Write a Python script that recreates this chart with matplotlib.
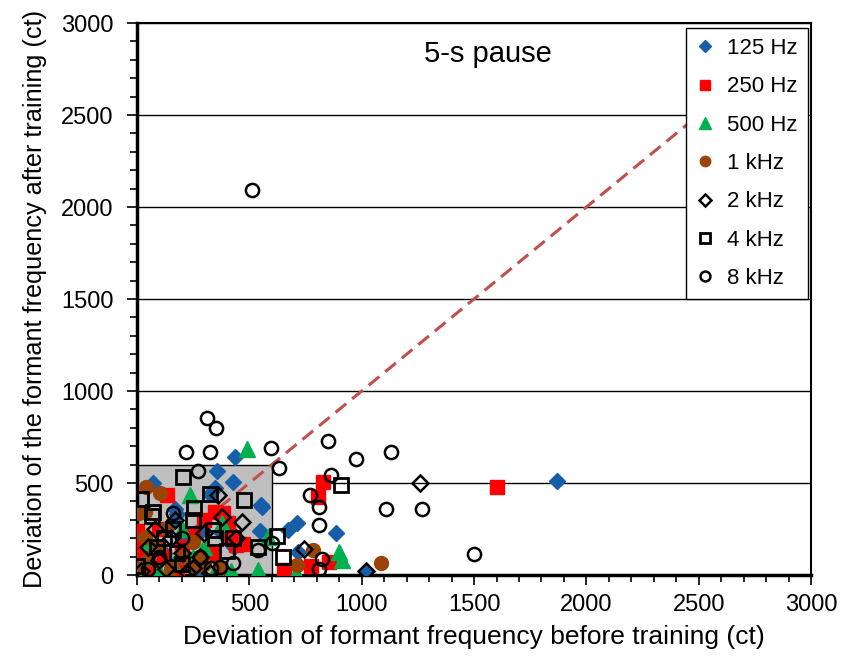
import matplotlib.pyplot as plt
from matplotlib.patches import Rectangle
from matplotlib.ticker import MultipleLocator

plt.rcParams['font.family'] = ['Liberation Sans', 'DejaVu Sans']

# deviation before training (x) and after training (y), in cents
x_125 = [1870, 1020, 886, 712, 672, 717, 436, 356, 347, 427, 71, 556, 547, 325,
         267, 160, 200, 290, 120, 60, 240, 180, 430, 380, 170, 289, 552]
y_125 = [510, 22, 228, 283, 245, 125, 640, 565, 473, 505, 500, 370, 240, 440,
         11, 290, 180, 250, 120, 60, 80, 330, 150, 230, 360, 245, 380]

x_250 = [1600, 828, 805, 855, 775, 655, 133, 0, 0, 405, 347, 383, 440, 60, 120,
         200, 250, 300, 180, 100, 340, 420, 470, 30]
y_250 = [480, 505, 424, 70, 50, 25, 435, 240, 180, 283, 342, 337, 163, 40, 100,
         150, 220, 300, 20, 250, 120, 200, 170, 120]

x_500 = [490, 236, 900, 912, 708, 538, 583, 0, 100, 160, 250, 300, 350, 420,
         60, 200, 380]
y_500 = [685, 435, 125, 80, 11, 27, 207, 0, 20, 60, 100, 150, 30, 20, 180, 250, 280]

x_1k = [40, 102, 9, 712, 783, 1086, 36, 36, 0, 258, 280, 369, 50, 100, 150,
        200, 250, 130, 300]
y_1k = [478, 446, 337, 54, 136, 65, 342, 207, 38, 43, 98, 38, 80, 150, 30,
        100, 180, 250, 60]

x_2k = [1259, 1020, 743, 467, 378, 360, 325, 222, 440, 50, 100, 150, 200, 250,
        300, 80, 20, 170, 130, 280]
y_2k = [500, 22, 141, 288, 315, 435, 11, 16, 200, 150, 80, 200, 120, 40, 230,
        250, 20, 300, 30, 100]

x_4k = [908, 623, 650, 476, 205, 18, 325, 71, 65, 254, 539, 338, 347, 427, 120,
        180, 0, 250, 90, 200, 400, 160]
y_4k = [489, 212, 98, 408, 532, 413, 440, 342, 320, 364, 152, 245, 201, 201,
        200, 120, 50, 300, 150, 60, 130, 250]

x_8k = [512, 312, 351, 218, 325, 596, 850, 975, 1130, 632, 271, 863, 770, 810,
        1108, 1268, 810, 1500, 823, 810, 600, 539, 160, 280, 427, 369, 100, 50,
        200, 330]
y_8k = [2090, 853, 800, 668, 668, 690, 728, 630, 668, 581, 565, 543, 435, 370,
        359, 359, 272, 114, 87, 33, 174, 136, 337, 98, 65, 43, 100, 30, 200, 40]

fig = plt.figure(figsize=(8.42, 6.63), dpi=100)
ax = fig.add_axes([0.1627, 0.1327, 0.8006, 0.8326])

# region of small deviations
ax.add_patch(Rectangle((0, 0), 600, 600, facecolor='#bfbfbf', edgecolor='black',
                       linewidth=1, zorder=1))
ax.plot([0, 2560], [0, 2560], linestyle=(0, (4.5, 2.5)), color='#c0504d',
        linewidth=2.2, zorder=2)

ax.plot(x_125, y_125, 'D', color='#175ea8', ms=8.5, mec='#175ea8', label='125 Hz', zorder=3)
ax.plot(x_250, y_250, 's', color='#ff0000', ms=10, mec='#ff0000', label='250 Hz', zorder=3)
ax.plot(x_500, y_500, '^', color='#00b050', ms=11, mec='#00b050', label='500 Hz', zorder=3)
ax.plot(x_1k, y_1k, 'o', color='#994406', ms=10, mec='#994406', label='1 kHz', zorder=3)
ax.plot(x_2k, y_2k, 'D', mfc='none', mec='black', mew=1.8, ms=8.5, label='2 kHz', zorder=4)
ax.plot(x_4k, y_4k, 's', mfc='none', mec='black', mew=2, ms=9.5, label='4 kHz', zorder=4)
ax.plot(x_8k, y_8k, 'o', mfc='none', mec='black', mew=1.8, ms=9.5, label='8 kHz', zorder=4)

ax.set_xlim(0, 3000)
ax.set_ylim(0, 3000)
ax.xaxis.set_major_locator(MultipleLocator(500))
ax.xaxis.set_minor_locator(MultipleLocator(100))
ax.yaxis.set_major_locator(MultipleLocator(500))
ax.yaxis.set_minor_locator(MultipleLocator(100))
ax.grid(axis='y', which='major', color='black', linewidth=1, zorder=0)
ax.set_axisbelow(True)
ax.tick_params(which='major', direction='out', length=7, width=1.2, labelsize=17)
ax.tick_params(which='minor', direction='out', length=5, width=1.2)
ax.tick_params(axis='x', pad=7)
ax.tick_params(axis='y', pad=10)

for side in ['left', 'bottom']:
    ax.spines[side].set_linewidth(2.5)
for side in ['top', 'right']:
    ax.spines[side].set_linewidth(1.5)

ax.set_xlabel('Deviation of formant frequency before training (ct)', fontsize=19, labelpad=6)
ax.set_ylabel('Deviation of the formant frequency after training (ct)', fontsize=18.2, labelpad=10)
ax.text(1560, 2830, '5-s pause', fontsize=21, ha='center', va='center')

leg = ax.legend(loc='upper right', bbox_to_anchor=(0.9955, 0.991), fontsize=16,
                fancybox=False, framealpha=1, edgecolor='black', markerscale=0.75,
                handlelength=0.8, handletextpad=0.6, labelspacing=0.78,
                borderpad=0.45, borderaxespad=0, numpoints=1)
leg.get_frame().set_linewidth(1)

fig.savefig('out.png', dpi=100)
